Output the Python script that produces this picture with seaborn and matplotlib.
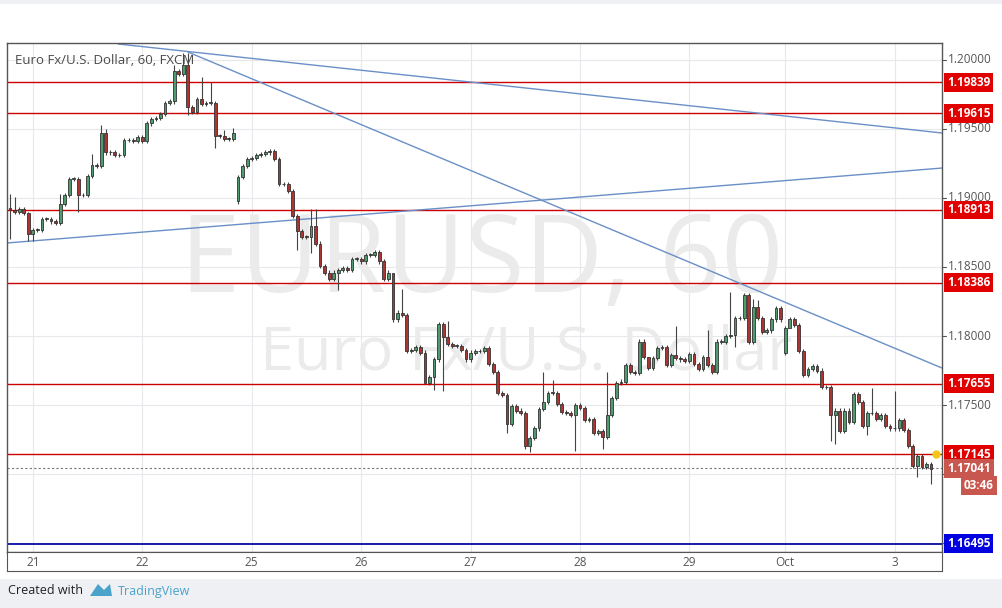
import numpy as np
import pandas as pd
import matplotlib.pyplot as plt
import matplotlib.patches as mpatches
import seaborn as sns

sns.set_style("white")
plt.rcParams['font.family'] = ['Open Sans', 'DejaVu Sans']

# hourly closes, EURUSD 60
closes_a = [1.1891, 1.1890, 1.1892, 1.1889, 1.1874, 1.1877, 1.1877, 1.1885, 1.1885, 1.1883,
            1.1882, 1.1896, 1.1902, 1.1914, 1.1914, 1.1902, 1.1902, 1.1916, 1.1924, 1.1923,
            1.1947, 1.1933, 1.1933, 1.1931, 1.1931, 1.1942, 1.1942, 1.1941, 1.1944, 1.1941,
            1.1954, 1.1957, 1.1958, 1.1961, 1.1969, 1.1970, 1.1992, 1.1990, 1.1996, 1.1966,
            1.1962, 1.1972, 1.1968, 1.1969, 1.1969, 1.1945, 1.1945, 1.1943, 1.1943, 1.1947]
closes_b = [1.1915, 1.1923, 1.1928, 1.1929, 1.1931, 1.1932, 1.1933, 1.1934, 1.1928, 1.1910,
            1.1910, 1.1905, 1.1887, 1.1876, 1.1872, 1.1872, 1.1880, 1.1867]
closes_c = [1.1851, 1.1846, 1.1841, 1.1846, 1.1848, 1.1849, 1.1848, 1.1856, 1.1856, 1.1854,
            1.1859, 1.1859, 1.1861, 1.1854, 1.1841, 1.1846, 1.1812, 1.1817, 1.1815, 1.1789,
            1.1790, 1.1792, 1.1788, 1.1766, 1.1770, 1.1783, 1.1809, 1.1799, 1.1794, 1.1793,
            1.1793, 1.1790, 1.1783, 1.1788, 1.1789, 1.1789, 1.1791, 1.1780, 1.1774, 1.1759,
            1.1757, 1.1736, 1.1749, 1.1746, 1.1744, 1.1720, 1.1726, 1.1733, 1.1747, 1.1752,
            1.1759, 1.1759, 1.1751, 1.1745, 1.1744, 1.1743, 1.1750, 1.1748, 1.1739, 1.1740,
            1.1730, 1.1731, 1.1727, 1.1743, 1.1755, 1.1766]
closes_d = [1.1767, 1.1779, 1.1774, 1.1773, 1.1796, 1.1785, 1.1777, 1.1784, 1.1791, 1.1792,
            1.1779, 1.1786, 1.1784, 1.1783, 1.1782, 1.1787, 1.1780, 1.1776, 1.1785, 1.1779,
            1.1774, 1.1796, 1.1796, 1.1800, 1.1801, 1.1813, 1.1813, 1.1830, 1.1796, 1.1821,
            1.1813, 1.1803, 1.1804, 1.1812, 1.1820, 1.1812, 1.1806, 1.1812, 1.1808, 1.1789,
            1.1772, 1.1776, 1.1778, 1.1775, 1.1763, 1.1763, 1.1743, 1.1746, 1.1731, 1.1746,
            1.1738, 1.1758, 1.1752, 1.1735, 1.1744, 1.1744, 1.1740, 1.1743, 1.1735, 1.1733,
            1.1733, 1.1739, 1.1732, 1.1720, 1.1706, 1.1713, 1.1705, 1.1707, 1.1704]
first_open = 1.1893
gap_opens = {50: 1.1898, 170: 1.1788}

# notable wicks (high / low by candle index), others are short
highs = {0: 1.1903, 1: 1.1901, 4: 1.1890, 11: 1.1903, 18: 1.1932, 20: 1.1953, 21: 1.1950,
         36: 1.1996, 38: 1.2005, 39: 1.2005, 42: 1.1988, 44: 1.1984, 47: 1.1949, 49: 1.1951,
         66: 1.1892, 67: 1.1892, 84: 1.1838, 86: 1.1834, 96: 1.1811,
         117: 1.1774, 119: 1.1768, 131: 1.1774, 140: 1.1785, 146: 1.1807, 153: 1.1804,
         158: 1.1832, 163: 1.1827, 164: 1.1826, 189: 1.1762, 194: 1.1760}
lows = {0: 1.1870, 4: 1.1869, 5: 1.1869, 15: 1.1890, 36: 1.1968, 39: 1.1960, 45: 1.1936,
        50: 1.1896, 63: 1.1862, 66: 1.1860, 72: 1.1833, 84: 1.1810, 91: 1.1782, 93: 1.1761,
        95: 1.1760, 109: 1.1730, 113: 1.1718, 114: 1.1716, 124: 1.1717, 130: 1.1718,
        159: 1.1792, 162: 1.1794, 171: 1.1808, 180: 1.1724, 181: 1.1722, 188: 1.1728,
        199: 1.1698, 202: 1.1693}

levels_red = [1.19839, 1.19615, 1.18913, 1.18386, 1.17655, 1.17145]
level_blue = 1.16495
last_price = 1.17041

# trend lines: (index, price) pairs
trend_a = ([23.7, 204.4], [1.20116, 1.19471])
trend_b = ([39.0, 204.4], [1.20058, 1.17768])
trend_c = ([-0.7, 204.4], [1.18674, 1.19217])

day_pos = [5, 29, 53, 77, 101, 125, 149, 170, 194]
day_labels = ['21', '22', '25', '26', '27', '28', '29', 'Oct', '3']
price_ticks = [1.200, 1.195, 1.190, 1.185, 1.180, 1.175, 1.170, 1.165]

closes = closes_a + closes_b + closes_c + closes_d
df = pd.DataFrame({'close': closes})
df['open'] = [first_open] + closes[:-1]
for k, v in gap_opens.items():
    df.loc[k, 'open'] = v
body_hi = df[['open', 'close']].max(axis=1)
body_lo = df[['open', 'close']].min(axis=1)
df['high'] = [highs.get(i, b + 0.00015) for i, b in enumerate(body_hi)]
df['low'] = [lows.get(i, b - 0.00015) for i, b in enumerate(body_lo)]

W, H = 1002, 608
fig = plt.figure(figsize=(W / 100, H / 100), dpi=100, facecolor='#eef0f3')
fig.patches.append(mpatches.Rectangle((0, 1 - 578 / H), 1, (578 - 4) / H,
                                      transform=fig.transFigure, facecolor='white', zorder=-5))
ax = fig.add_axes([7 / W, 1 - 552 / H, (942 - 7) / W, (552 - 43) / H])
ax.set_xlim(-0.66, 204.4)
ax.set_ylim(1.16435, 1.20123)

# grid
for p in price_ticks:
    ax.axhline(p, color='#e6e8ec', lw=0.8, zorder=0)
for d in day_pos:
    ax.axvline(d, color='#e6e8ec', lw=0.8, zorder=0)

# watermark
ax.text(0.508, 0.566, 'EURUSD, 60', transform=ax.transAxes, ha='center', va='center',
        fontsize=78, color='#ebebeb', zorder=0.5)
ax.text(0.555, 0.39, 'Euro Fx/U.S. Dollar', transform=ax.transAxes, ha='center', va='center',
        fontsize=44, color='#ebebeb', zorder=0.5)

# candles
up = df['close'] >= df['open']
colors = np.where(up, '#4f9a6e', '#ab3530')
ax.vlines(df.index, df['low'], df['high'], color='#444444', lw=0.8, zorder=2)
ax.bar(df.index, (body_hi - body_lo).clip(lower=0.00003), bottom=body_lo, width=0.62,
       color=colors, edgecolor='#333333', linewidth=0.6, zorder=3)

# levels
for lv in levels_red:
    ax.axhline(lv, color='#cc0000', lw=1.0, zorder=1.5)
ax.axhline(level_blue, color='#0a0aa0', lw=1.3, zorder=1.5)
ax.axhline(last_price, color='#777777', lw=0.8, ls=(0, (2, 2)), zorder=1.5)
for xs, ys in (trend_a, trend_b, trend_c):
    ax.plot(xs, ys, color='#6a8fc7', lw=1.0, zorder=1.6)
ax.plot([203], [levels_red[-1]], 'o', color='#f5c518', ms=5, zorder=4)

ax.text(8 / 935, 1 - 18 / 509, 'Euro Fx/U.S. Dollar, 60, FXCM', transform=ax.transAxes,
        fontsize=9.5, color='#4a4a4a', va='center', ha='left')

ax.set_xticks([])
ax.set_yticks([])
for s in ax.spines.values():
    s.set_color('#555555')
    s.set_linewidth(1.0)

# time axis strip
tax = fig.add_axes([7 / W, 1 - 571 / H, (942 - 7) / W, 19 / H])
tax.set_xlim(ax.get_xlim())
tax.set_ylim(0, 1)
tax.set_yticks([])
tax.set_xticks(day_pos)
tax.set_xticklabels([])
tax.tick_params(axis='x', direction='in', length=3, color='#555555')
for d, lab in zip(day_pos, day_labels):
    tax.text(d, 0.45, lab, ha='center', va='center', fontsize=8.5, color='#555555')
for s in tax.spines.values():
    s.set_color('#555555')

# price axis labels (hidden where a price box covers them)
boxes = levels_red + [level_blue, last_price, last_price - 0.0012]
trans = ax.get_yaxis_transform()
for p in price_ticks:
    ax.plot([1.0, 1.0 + 4 / 935], [p, p], transform=trans, color='#555555', lw=0.8,
            clip_on=False)
    if min(abs(p - b) for b in boxes) > 0.0008:
        ax.text(1.0 + 6 / 935, p, f'{p:.5f}', transform=trans, ha='left', va='center',
                fontsize=8.5, color='#555555', clip_on=False)


def price_box(p, txt, fc, x=5):
    ax.text(1.0 + x / 935, p, txt, transform=trans, ha='left', va='center', fontsize=8.5,
            color='white', fontweight='bold', clip_on=False, zorder=5,
            bbox=dict(boxstyle='square,pad=0.25', fc=fc, ec='none'))


for lv in levels_red:
    price_box(lv, f'{lv:.5f}', '#e00000')
price_box(level_blue, f'{level_blue:.5f}', '#0000e0')
price_box(last_price, f'{last_price:.5f}', '#c8574f')
price_box(last_price - 0.00125, '03:46', '#c8574f', x=22)

# footer
fig.text(8 / W, 1 - 591 / H, 'Created with', fontsize=9, color='#222222', va='center')
fig.text(118 / W, 1 - 591 / H, 'TradingView', fontsize=9, color='#4aa3c8', va='center')
fig.patches.append(mpatches.Polygon([(90 / W, 1 - 596 / H), (98 / W, 1 - 584 / H),
                                     (104 / W, 1 - 590 / H), (110 / W, 1 - 584 / H),
                                     (112 / W, 1 - 596 / H)],
                                    transform=fig.transFigure, fc='#4aa3c8', ec='none'))

fig.savefig('out.png', dpi=100, facecolor=fig.get_facecolor())
